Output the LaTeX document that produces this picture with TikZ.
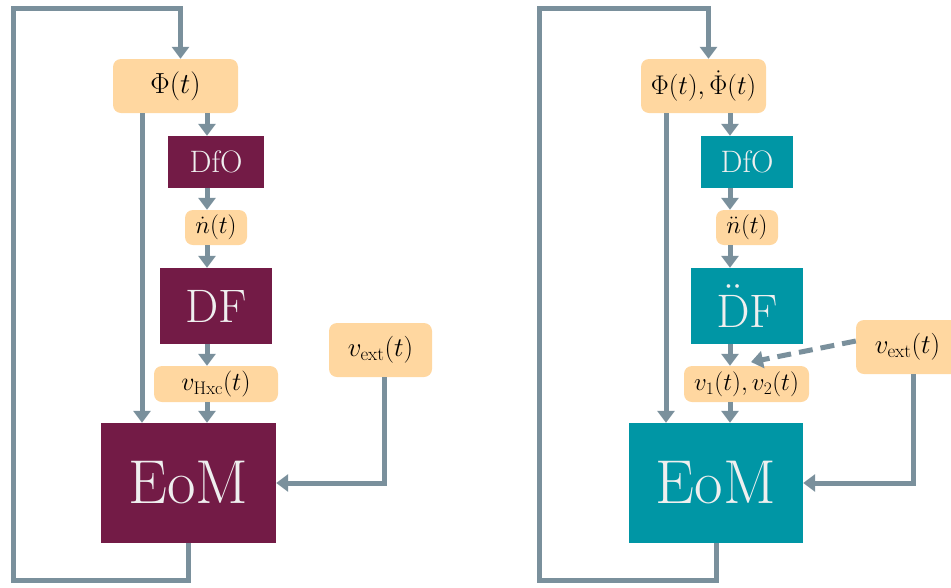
\RequirePackage{fix-cm}
\documentclass[tikz,border=0pt]{standalone}
\usetikzlibrary{arrows.meta,calc}
\definecolor{peachc}{HTML}{FFD7A0}
\definecolor{maroonc}{HTML}{731B46}
\definecolor{tealc}{HTML}{0096A5}
\definecolor{slatec}{HTML}{7A909C}
\definecolor{offwhite}{HTML}{EFEFEF}
\newcommand\fsz[1]{\fontsize{#1}{#1}\selectfont}
\tikzset{
  valbox/.style={fill=peachc, rounded corners=8pt, inner sep=0pt, text=black},
  opL/.style={fill=maroonc, inner sep=0pt, text=offwhite},
  opR/.style={fill=tealc, inner sep=0pt, text=offwhite},
  flow/.style={draw=slatec, line width=5pt, -{Triangle[length=12pt,width=17pt]}},
  dashflow/.style={flow, dash pattern=on 14pt off 8pt}
}
\begin{document}
\begin{tikzpicture}[x=1pt,y=-1pt]
\useasboundingbox (0,0) rectangle (951,587);
% ---------- left diagram ----------
\node[valbox, minimum width=125pt, minimum height=54pt, font=\fsz{29}] (phiL) at (175.5,86) {$\Phi(t)$};
\node[opL, minimum width=96pt, minimum height=52pt, font=\fsz{31}] (dfoL) at (216,162) {DfO};
\node[valbox, minimum width=62pt, minimum height=35pt, font=\fsz{25}] (ndotL) at (216,227.5) {$\dot n(t)$};
\node[opL, minimum width=112pt, minimum height=76pt, font=\fsz{47}] (dfL) at (216,306) {DF};
\node[valbox, minimum width=124pt, minimum height=36pt, font=\fsz{26}] (vhxcL) at (216,384) {$v_{\mathrm{Hxc}}(t)$};
\node[opL, minimum width=175pt, minimum height=120pt, font=\fsz{62}] (eomL) at (188.5,483) {EoM};
\node[valbox, minimum width=103pt, minimum height=54pt, font=\fsz{27}] (vextL) at (380.5,350) {$v_{\mathrm{ext}}(t)$};
\coordinate (colL) at (207,0);
\coordinate (longL) at (142,0);
\coordinate (loopL1) at (13,580);
\coordinate (loopL2) at (13,8.5);
\coordinate (loopL3) at (180.5,8.5);
\draw[flow] (phiL.south -| colL) -- (dfoL.north -| colL);
\draw[flow] (dfoL.south -| colL) -- (ndotL.north -| colL);
\draw[flow] (ndotL.south -| colL) -- (dfL.north -| colL);
\draw[flow] (dfL.south -| colL) -- (vhxcL.north -| colL);
\draw[flow] (vhxcL.south -| colL) -- (eomL.north -| colL);
\draw[flow] (phiL.south -| longL) -- (eomL.north -| longL);
\draw[flow] ([xshift=3.5pt]vextL.south) |- (eomL.east);
\draw[flow] (eomL.south) |- (loopL1) -- (loopL2) -| (phiL.north -| loopL3);
% ---------- right diagram ----------
\node[valbox, minimum width=125pt, minimum height=54pt, font=\fsz{27}] (phiR) at (703.5,86) {$\Phi(t),\dot\Phi(t)$};
\node[opR, minimum width=92pt, minimum height=52pt, font=\fsz{31}] (dfoR) at (747,162) {DfO};
\node[valbox, minimum width=62pt, minimum height=35pt, font=\fsz{25}] (nddR) at (747,227.5) {$\ddot n(t)$};
\node[opR, minimum width=112pt, minimum height=76pt, font=\fsz{47}] (dfR) at (747,306) {$\ddot{\mathrm{D}}$F};
\node[valbox, minimum width=125pt, minimum height=36pt, font=\fsz{25}] (v12R) at (746.5,384) {$v_1(t),v_2(t)$};
\node[opR, minimum width=174pt, minimum height=120pt, font=\fsz{62}] (eomR) at (716,483) {EoM};
\node[valbox, minimum width=103pt, minimum height=54pt, font=\fsz{27}] (vextR) at (907.5,347) {$v_{\mathrm{ext}}(t)$};
\coordinate (colR) at (730,0);
\coordinate (longR) at (666,0);
\coordinate (loopR1) at (539.5,580);
\coordinate (loopR2) at (539.5,8.5);
\coordinate (loopR3) at (708.5,8.5);
\coordinate (dashEnd) at (751,362);
\draw[flow] (phiR.south -| colR) -- (dfoR.north -| colR);
\draw[flow] (dfoR.south -| colR) -- (nddR.north -| colR);
\draw[flow] (nddR.south -| colR) -- (dfR.north -| colR);
\draw[flow] (dfR.south -| colR) -- (v12R.north -| colR);
\draw[flow] (v12R.south -| colR) -- (eomR.north -| colR);
\draw[flow] (phiR.south -| longR) -- (eomR.north -| longR);
\draw[flow] ([xshift=5.5pt]vextR.south) |- (eomR.east);
\draw[dashflow] ($(vextR.west)+(0,-6)$) -- (dashEnd);
\draw[flow] (eomR.south) |- (loopR1) -- (loopR2) -| (phiR.north -| loopR3);
\end{tikzpicture}
\end{document}
